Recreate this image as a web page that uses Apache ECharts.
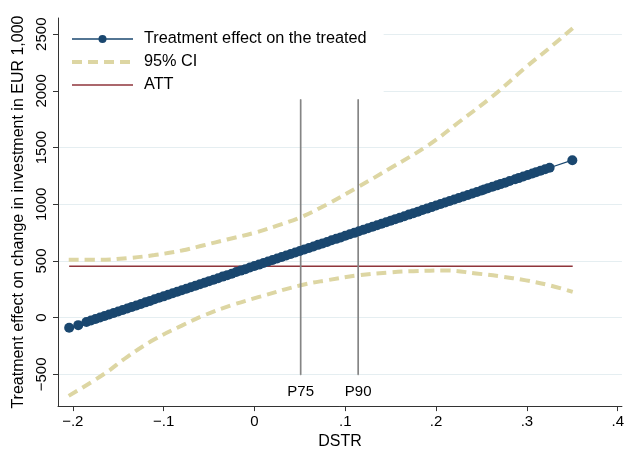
<!DOCTYPE html>
<html>
<head>
<meta charset="utf-8">
<script src="https://cdn.jsdelivr.net/npm/echarts@6/dist/echarts.min.js"></script>
<style>
  html, body { margin: 0; padding: 0; background: #fff; }
  #chart { width: 627px; height: 455px; }
</style>
</head>
<body>
<div id="chart"></div>
<script>
  // axis ticks
  const xTicks = [-0.2, -0.1, 0, 0.1, 0.2, 0.3, 0.4]
  const yTicks = [-500, 0, 500, 1000, 1500, 2000, 2500]

  // treatment effect on the treated (dense markers)
  const teX = [-0.204, -0.194,
    -0.185, -0.180, -0.175, -0.170, -0.165, -0.160, -0.155, -0.150, -0.145, -0.140,
    -0.135, -0.130, -0.125, -0.120, -0.115, -0.110, -0.105, -0.100, -0.095, -0.090,
    -0.085, -0.080, -0.075, -0.070, -0.065, -0.060, -0.055, -0.050, -0.045, -0.040,
    -0.035, -0.030, -0.025, -0.020, -0.015, -0.010, -0.005, 0.000, 0.005, 0.010,
    0.015, 0.020, 0.025, 0.030, 0.035, 0.040, 0.045, 0.050, 0.055, 0.060,
    0.065, 0.070, 0.075, 0.080, 0.085, 0.090, 0.095, 0.100, 0.105, 0.110,
    0.115, 0.120, 0.125, 0.130, 0.135, 0.140, 0.145, 0.150, 0.155, 0.160,
    0.165, 0.170, 0.175, 0.180, 0.185, 0.190, 0.195, 0.200, 0.205, 0.210,
    0.215, 0.220, 0.225, 0.230, 0.235, 0.240, 0.245, 0.250, 0.253,
    0.257, 0.262, 0.267, 0.271, 0.276, 0.281, 0.287,
    0.291, 0.296, 0.301, 0.306, 0.310, 0.315, 0.320, 0.325, 0.350]
  const teY = [-89, -66,
    -39, -25, -12, 1, 15, 28, 41, 55, 68, 81,
    95, 108, 121, 135, 148, 162, 175, 188, 202, 215,
    228, 242, 255, 268, 282, 295, 308, 322, 335, 348,
    362, 375, 388, 402, 415, 428, 442, 455, 468, 482,
    495, 508, 522, 535, 548, 562, 575, 588, 602, 615,
    628, 642, 655, 668, 682, 695, 708, 722, 735, 748,
    762, 775, 789, 802, 815, 829, 842, 855, 869, 882,
    895, 909, 922, 935, 949, 962, 975, 989, 1002, 1015,
    1029, 1042, 1055, 1069, 1082, 1095, 1109, 1122, 1130,
    1141, 1154, 1167, 1178, 1191, 1205, 1221,
    1231, 1245, 1258, 1271, 1282, 1295, 1309, 1322, 1389]

  // 95% confidence band
  const ciUpX = [-0.2045, -0.17, -0.14, -0.11, -0.08, -0.0556, -0.03, 0.0025, 0.025, 0.051,
    0.08, 0.114, 0.15, 0.1916, 0.226, 0.2625, 0.299, 0.325, 0.3504]
  const ciUpY = [511, 510, 525, 552, 592, 639, 690, 754, 812, 886,
    1000, 1152, 1320, 1522, 1730, 1955, 2210, 2380, 2553]
  const ciLoX = [-0.2045, -0.165, -0.14, -0.11, -0.08, -0.0556, -0.025, 0.006, 0.051, 0.08,
    0.114, 0.15, 0.175, 0.2116, 0.244, 0.27, 0.299, 0.325, 0.3504]
  const ciLoY = [-690, -494, -345, -191, -70, 20, 110, 185, 286, 330,
    373, 400, 410, 416, 390, 365, 329, 285, 228]

  // average treatment effect on the treated
  const attX = [-0.204, 0.3504]
  const attY = [453, 453]

  // percentile markers of DSTR
  const pctNames = ['P75', 'P90']
  const pctX = [0.0509, 0.1142]
  const pctSpan = [-503, 1925]

  const zip = (xs, ys) => xs.map((x, i) => [x, ys[i]])
  const fmt = v => {
    if (v === 0) return '0'
    const s = String(Math.abs(v)).replace(/^0\./, '.')
    return (v < 0 ? '\u2212' : '') + s
  }

  const chart = echarts.init(document.getElementById('chart'))

  const pctSeries = pctNames.map((name, i) => ({
    name: name,
    type: 'line',
    z: 3,
    symbol: 'circle',
    symbolSize: 1,
    showSymbol: true,
    itemStyle: { color: '#858585' },
    lineStyle: { color: '#858585', width: 1.7 },
    data: [
      {
        value: [pctX[i], pctSpan[0]],
        label: {
          show: true,
          position: 'bottom',
          distance: 9,
          formatter: name,
          fontSize: 15,
          color: '#000'
        }
      },
      [pctX[i], pctSpan[1]]
    ]
  }))

  const option = {
    animation: false,
    textStyle: { fontFamily: 'Liberation Sans, Arial, sans-serif' },
    grid: { left: 58, right: 0, top: 18, bottom: 42 },
    legend: {
      orient: 'vertical',
      z: 10,
      left: 59,
      top: 22,
      padding: [8, 17, 5, 11],
      backgroundColor: '#fff',
      itemWidth: 61,
      itemHeight: 10,
      itemGap: 5,
      data: [
        { name: 'Treatment effect on the treated', lineStyle: { width: 1.4 } },
        { name: '95% CI', itemStyle: { opacity: 0 }, lineStyle: { width: 4 } },
        { name: 'ATT', itemStyle: { opacity: 0 }, lineStyle: { width: 1.5 } }
      ],
      textStyle: { fontSize: 16.3, color: '#000', lineHeight: 18, padding: [0, 0, 0, 6] }
    },
    xAxis: {
      type: 'value',
      min: -0.2163,
      max: 0.4046,
      name: 'DSTR',
      nameLocation: 'middle',
      nameGap: 26,
      nameTextStyle: { fontSize: 16, color: '#000' },
      axisLine: { show: true, onZero: false, lineStyle: { color: '#333', width: 1 } },
      axisTick: { show: true, length: 5, customValues: xTicks, lineStyle: { color: '#333' } },
      axisLabel: { customValues: xTicks, formatter: fmt, fontSize: 15, color: '#000', margin: 8 },
      splitLine: { show: false }
    },
    yAxis: {
      type: 'value',
      min: -780,
      max: 2643,
      name: 'Treatment effect on change in investment in EUR 1,000',
      nameLocation: 'middle',
      nameGap: 30,
      nameRotate: 90,
      nameTextStyle: { fontSize: 16, color: '#000' },
      axisLine: { show: true, onZero: false, lineStyle: { color: '#333', width: 1 } },
      axisTick: { show: true, length: 5, customValues: yTicks, lineStyle: { color: '#333' } },
      axisLabel: { customValues: yTicks, formatter: fmt, rotate: 90, fontSize: 15, color: '#000', margin: 9 },
      splitLine: { show: false }
    },
    series: [
      {
        name: 'grid',
        type: 'line',
        z: 0,
        data: [],
        markLine: {
          z: 0,
          silent: true,
          symbol: 'none',
          label: { show: false },
          lineStyle: { color: '#e5eef1', width: 1, type: 'solid' },
          data: yTicks.map(v => ({ yAxis: v }))
        }
      },
      {
        name: '95% CI',
        type: 'line',
        z: 2,
        smooth: 0.4,
        symbol: 'none',
        itemStyle: { color: '#ddd6a3' },
        lineStyle: { color: '#ddd6a3', width: 4, type: [10, 6] },
        data: zip(ciUpX, ciUpY)
      },
      {
        name: '95% CI',
        type: 'line',
        z: 2,
        smooth: 0.4,
        symbol: 'none',
        itemStyle: { color: '#ddd6a3' },
        lineStyle: { color: '#ddd6a3', width: 4, type: [10, 6] },
        data: zip(ciLoX, ciLoY)
      },
      {
        name: 'ATT',
        type: 'line',
        z: 3,
        symbol: 'none',
        itemStyle: { color: '#8f353b' },
        lineStyle: { color: '#8f353b', width: 1.6 },
        data: zip(attX, attY)
      },
      ...pctSeries,
      {
        name: 'Treatment effect on the treated',
        type: 'line',
        z: 5,
        symbol: 'circle',
        symbolSize: 10,
        showAllSymbol: true,
        itemStyle: { color: '#1a476f' },
        lineStyle: { color: '#1a476f', width: 1.2 },
        data: zip(teX, teY)
      }
    ]
  }

  chart.setOption(option)
</script>
</body>
</html>
